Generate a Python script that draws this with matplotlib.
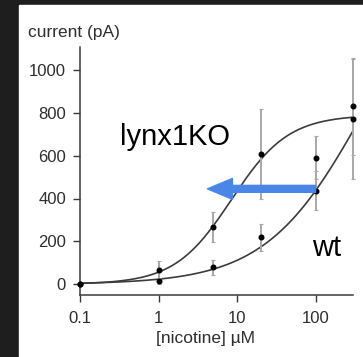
import numpy as np
import matplotlib
matplotlib.use('Agg')  # headless
import matplotlib.pyplot as plt
from matplotlib.patches import Rectangle

plt.rcParams['font.family'] = ['Liberation Sans', 'DejaVu Sans']

# -----------------------------
# data
# -----------------------------
conc = [0.1, 1, 5, 20, 100, 300]          # nicotine, uM
ko_mean = [0, 65, 265, 610, 590, 830]     # lynx1KO current, pA
ko_err = [0, 45, 70, 210, 100, 225]
wt_mean = [0, 15, 80, 220, 437, 772]      # wt current, pA
wt_err = [0, 15, 35, 63, 90, 280]

# Hill fits (top, EC50, n)
ko_fit = (790, 8.5, 1.2)
wt_fit = (1600, 406, 0.7)

x_ticks = [0.1, 1, 10, 100]
x_ticklabels = ["0.1", "1", "10", "100"]
y_ticks = [0, 200, 400, 600, 800, 1000]

# arrow: from wt point at 100 uM leftwards
arrow_tail = (100, 445)
arrow_head = (4.2, 445)


def hill(x, top, ec50, n):
    return top * x**n / (x**n + ec50**n)


fig = plt.figure(figsize=(3.63, 3.57), dpi=100, facecolor="#1e1e1e")
fig.patches.append(Rectangle((19 / 363, 0), 1, 1 - 5 / 357,
                             transform=fig.transFigure, color="white", zorder=-1))

ax = fig.add_axes([80 / 363, (357 - 294.5) / 357, 273 / 363, 247.5 / 357])
ax.set_zorder(2)
ax.set_facecolor("none")

xs = np.logspace(-1, np.log10(300), 300)
ax.plot(xs, hill(xs, *ko_fit), color="#3c3c3c", lw=1.2, zorder=3, clip_on=False)
ax.plot(xs, hill(xs, *wt_fit), color="#3c3c3c", lw=1.2, zorder=3, clip_on=False)

for m, e in [(ko_mean, ko_err), (wt_mean, wt_err)]:
    eb = ax.errorbar(conc, m, yerr=e, fmt="o", ms=3.3, color="black",
                     ecolor="#a8a8a8", elinewidth=1.4, capsize=1.5,
                     capthick=0.8, zorder=4, clip_on=False)
    for art in eb.lines[1] + eb.lines[2]:
        art.set_clip_on(False)

ax.annotate("", xy=arrow_head, xytext=arrow_tail, zorder=6,
            arrowprops=dict(arrowstyle="simple,head_length=18,head_width=15,tail_width=5",
                            mutation_scale=1, color="#4a86e8", shrinkA=0, shrinkB=0))

ax.set_xscale("log")
ax.set_xlim(0.1, 300)
ax.set_ylim(-48, 1107)
ax.set_xticks(x_ticks)
ax.set_xticklabels(x_ticklabels)
ax.minorticks_off()
ax.set_yticks(y_ticks)

for s in ["top", "right"]:
    ax.spines[s].set_visible(False)
for s in ["left", "bottom"]:
    ax.spines[s].set_color("#3a3a3a")
    ax.spines[s].set_linewidth(1.1)
ax.tick_params(axis="both", colors="#3a3a3a", labelcolor="#2e2e2e",
               labelsize=12, length=5, width=1.0, pad=5)
ax.tick_params(axis="x", pad=7)

fig.text(120 / 363, 1 - 145 / 357, "lynx1KO", fontsize=21, color="black",
         ha="left", va="baseline", zorder=3)
fig.text(312 / 363, 1 - 256 / 357, "wt", fontsize=21, color="black",
         ha="left", va="baseline", zorder=3)

fig.text(28 / 363, 1 - 32 / 357, "current (pA)", fontsize=12.5, color="#2e2e2e",
         ha="left", va="center", zorder=3)
fig.text(205 / 363, 1 - 338 / 357, "[nicotine] \u00b5M", fontsize=12.5,
         color="#2e2e2e", ha="center", va="center", zorder=3)

fig.savefig("out.png", dpi=100, facecolor=fig.get_facecolor())
